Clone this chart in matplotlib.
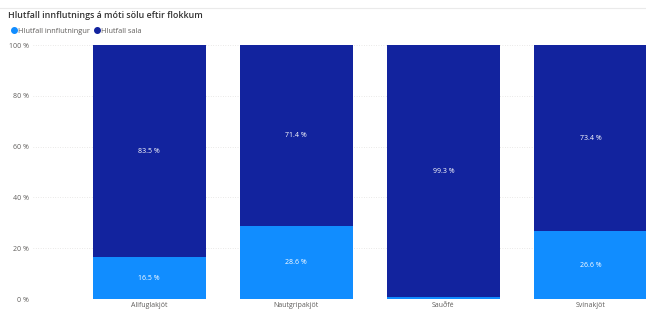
import matplotlib.pyplot as plt
import numpy as np
from matplotlib.lines import Line2D

categories = ["Alifuglakjöt", "Nautgripakjöt", "Sauðfé", "Svínakjöt"]
import_share = [16.5, 28.6, 0.7, 26.6]
sales_share = [83.5, 71.4, 99.3, 73.4]

c_import = "#118DFF"
c_sales = "#12239E"
grey = "#605E5C"

plt.rcParams["font.family"] = ["Open Sans", "DejaVu Sans"]

fig = plt.figure(figsize=(6.46, 3.09), dpi=100)
ax = fig.add_axes([33 / 646, 10 / 309, 613 / 646, 254 / 309])

x = np.arange(len(categories))
w = 0.77
b1 = ax.bar(x, import_share, w, color=c_import, zorder=2)
b2 = ax.bar(x, sales_share, w, bottom=import_share, color=c_sales, zorder=2)

for i in range(len(categories)):
    if import_share[i] > 3:
        ax.text(x[i], import_share[i] / 2, f"{import_share[i]:.1f} %", ha="center", va="center",
                color="white", fontsize=5)
    ax.text(x[i], import_share[i] + sales_share[i] / 2, f"{sales_share[i]:.1f} %", ha="center",
            va="center", color="white", fontsize=5)

ax.set_xlim(-0.79, 3.378)
ax.set_ylim(0, 100)
ax.set_yticks([0, 20, 40, 60, 80, 100])
ax.set_yticklabels([f"{v} %" for v in [0, 20, 40, 60, 80, 100]])
ax.set_xticks(x)
ax.set_xticklabels(categories)
ax.tick_params(length=0, labelsize=5, colors=grey, pad=3)
ax.tick_params(axis="x", pad=2)
ax.grid(axis="y", color="#D6D4D2", linestyle=(0, (1, 2.5)), linewidth=0.5, zorder=0)
for s in ax.spines.values():
    s.set_visible(False)

fig.text(8 / 646, 1 - 15 / 309, "Hlutfall innflutnings á móti sölu eftir flokkum",
         fontsize=6.4, fontweight="semibold", color="#333333", va="center")
fig.add_artist(Line2D([0, 1], [1 - 8 / 309, 1 - 8 / 309], color="#EAEAEA", linewidth=0.8))

handles = [Line2D([], [], marker="o", linestyle="", color=c, markersize=4)
           for c in (c_import, c_sales)]
fig.legend(handles, ["Hlutfall innflutningur", "Hlutfall sala"], loc="center left",
           bbox_to_anchor=(3 / 646, 1 - 31 / 309), ncol=2, frameon=False, fontsize=5.3,
           labelcolor=grey, handletextpad=0.0, columnspacing=0.4, handlelength=1.1)

fig.savefig("out.png", dpi=100)
